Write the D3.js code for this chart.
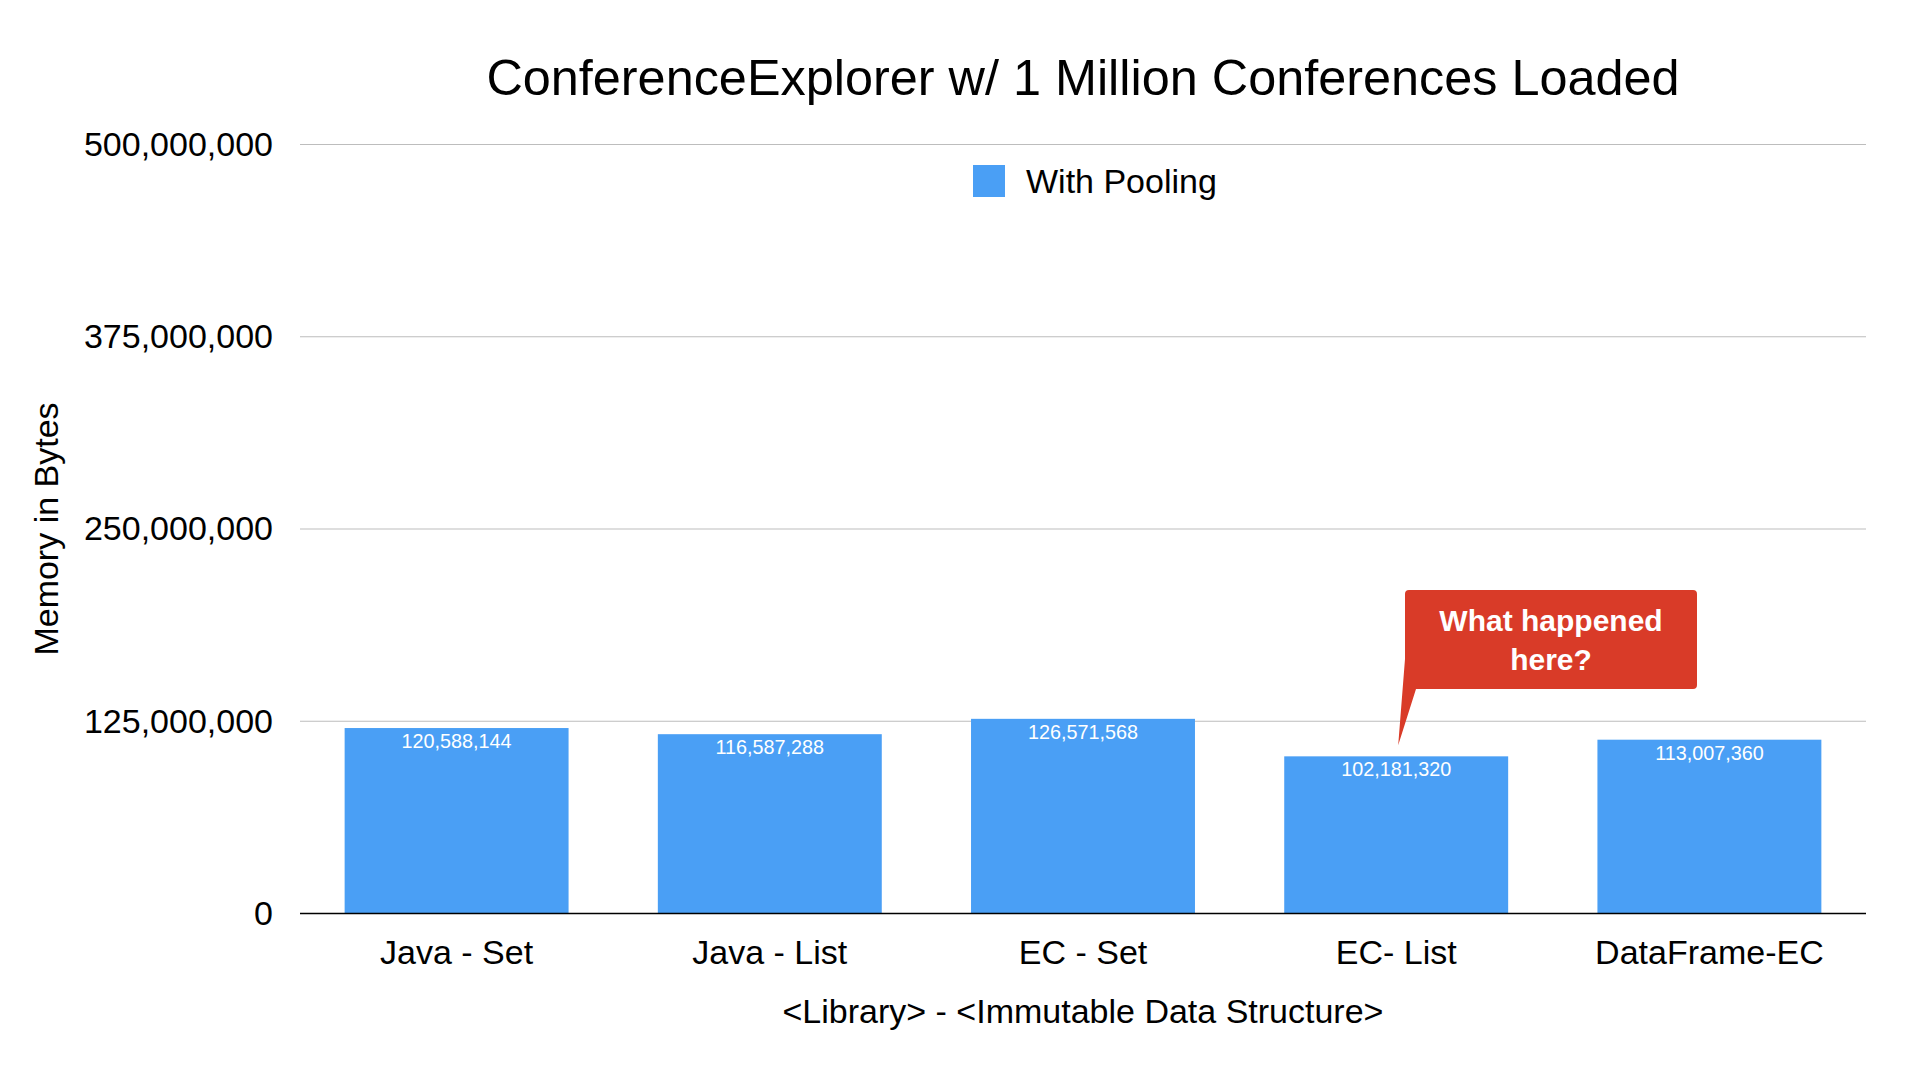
<!DOCTYPE html>
<html>
<head>
<meta charset="utf-8">
<script src="https://cdn.jsdelivr.net/npm/d3@7"></script>
<style>
  html, body { margin: 0; padding: 0; background: #fff; }
  svg { display: block; font-family: "Liberation Sans", Arial, Helvetica, sans-serif; }
</style>
</head>
<body>
<svg id="chart" width="1920" height="1080"></svg>
<script>
const categories = ["Java - Set", "Java - List", "EC - Set", "EC- List", "DataFrame-EC"];
const values = [120588144, 116587288, 126571568, 102181320, 113007360];
const yTicks = [0, 125000000, 250000000, 375000000, 500000000];
const seriesName = "With Pooling";
const titleText = "ConferenceExplorer w/ 1 Million Conferences Loaded";
const xTitle = "<Library> - <Immutable Data Structure>";
const yTitle = "Memory in Bytes";
const calloutLines = ["What happened", "here?"];
const calloutCategory = "EC- List";

(function () {
const svg = d3.select("#chart");
const pLeft = 300, pRight = 1866, pTop = 144.5, pBottom = 913.5;
const barColor = "#4A9FF5";
const fmt = d3.format(",");

const x = d3.scaleBand().domain(categories).range([pLeft, pRight]).paddingInner(0.285).paddingOuter(0.1425);
const y = d3.scaleLinear().domain([0, 500000000]).range([pBottom, pTop]);

// gridlines
svg.append("g").selectAll("line").data(yTicks.filter(d => d > 0)).join("line")
  .attr("x1", pLeft).attr("x2", pRight)
  .attr("y1", d => y(d)).attr("y2", d => y(d))
  .attr("stroke", "#BDBDBD").attr("stroke-width", 1.2);

// y axis labels
const yAxis = d3.axisLeft(y).tickValues(yTicks).tickFormat(fmt).tickSize(0).tickPadding(27);
const yg = svg.append("g").attr("transform", `translate(${pLeft},0)`).call(yAxis);
yg.select(".domain").remove();
yg.selectAll("text").attr("font-size", 34).attr("fill", "#000").attr("font-family", "Liberation Sans, Arial, sans-serif");

// bars
svg.append("g").selectAll("rect").data(categories).join("rect")
  .attr("x", d => x(d)).attr("width", x.bandwidth())
  .attr("y", (d, i) => y(values[i])).attr("height", (d, i) => y(0) - y(values[i]))
  .attr("fill", barColor);

// bar labels
svg.append("g").selectAll("text").data(categories).join("text")
  .attr("x", d => x(d) + x.bandwidth() / 2)
  .attr("y", (d, i) => y(values[i]) + 20)
  .attr("text-anchor", "middle").attr("font-size", 19.8).attr("fill", "#fff")
  .text((d, i) => fmt(values[i]));

// baseline
svg.append("line").attr("x1", pLeft).attr("x2", pRight).attr("y1", y(0)).attr("y2", y(0))
  .attr("stroke", "#000").attr("stroke-width", 1.5);

// x axis labels
const xAxis = d3.axisBottom(x).tickSize(0).tickPadding(0);
const xg = svg.append("g").attr("transform", `translate(0,${pBottom})`).call(xAxis);
xg.select(".domain").remove();
xg.selectAll("text").attr("font-size", 34).attr("fill", "#000").attr("dy", null)
  .attr("y", 50).attr("font-family", "Liberation Sans, Arial, sans-serif");

// title
svg.append("text").attr("x", (pLeft + pRight) / 2).attr("y", 95).attr("text-anchor", "middle")
  .attr("font-size", 50.4).attr("fill", "#000").text(titleText);

// axis titles
svg.append("text").attr("x", (pLeft + pRight) / 2).attr("y", 1023).attr("text-anchor", "middle")
  .attr("font-size", 34).attr("fill", "#000").text(xTitle);
svg.append("text").attr("transform", `translate(58,${(pTop + pBottom) / 2}) rotate(-90)`)
  .attr("text-anchor", "middle").attr("font-size", 34).attr("fill", "#000").text(yTitle);

// legend
const lg = svg.append("g");
lg.append("rect").attr("x", 973).attr("y", 165).attr("width", 32).attr("height", 32).attr("fill", barColor);
lg.append("text").attr("x", 1026).attr("y", 193).attr("font-size", 34).attr("fill", "#000").text(seriesName);

// callout
const ci = categories.indexOf(calloutCategory);
const tipX = x(calloutCategory) + x.bandwidth() / 2 + 2;
const tipY = y(values[ci]) - 11;
const bx = 1405, by = 590, bw = 292, bh = 99, r = 4;
const red = "#D93B28";
const path = d3.path();
path.moveTo(bx + r, by);
path.lineTo(bx + bw - r, by);
path.quadraticCurveTo(bx + bw, by, bx + bw, by + r);
path.lineTo(bx + bw, by + bh - r);
path.quadraticCurveTo(bx + bw, by + bh, bx + bw - r, by + bh);
path.lineTo(bx + 11, by + bh);
path.lineTo(tipX, tipY);
path.lineTo(bx, by + bh - 30);
path.lineTo(bx, by + r);
path.quadraticCurveTo(bx, by, bx + r, by);
path.closePath();
svg.append("path").attr("d", path.toString()).attr("fill", red);
svg.append("g").selectAll("text").data(calloutLines).join("text")
  .attr("x", bx + bw / 2).attr("y", (d, i) => 631 + i * 38.5)
  .attr("text-anchor", "middle").attr("font-size", 30).attr("font-weight", "bold")
  .attr("fill", "#fff").text(d => d);
})();
</script>
</body>
</html>
